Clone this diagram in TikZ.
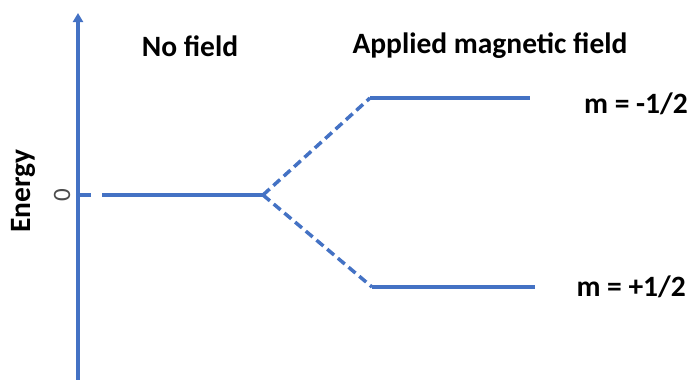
\documentclass[tikz,border=0pt]{standalone}
\usepackage{fontspec}
\setmainfont{Carlito}
\usetikzlibrary{arrows.meta}
\definecolor{lvl}{HTML}{4472C4}
\begin{document}
\begin{tikzpicture}[x=1pt,y=-1pt,
  lev/.style={draw=lvl,line width=3.5pt},
  dsh/.style={draw=lvl,line width=3.5pt,dash pattern=on 9pt off 5pt},
  lab/.style={font=\bfseries\fontsize{29.5}{32}\selectfont,inner sep=0pt}]
\useasboundingbox (0,0) rectangle (691,380);
\coordinate (ab) at (78,380);
\coordinate (at) at (78,13);
\draw[draw=lvl,line width=3.5pt,-{Triangle[length=9pt,width=10pt]}] (ab) -- (at);
\coordinate (t0) at (79,195);
\coordinate (t1) at (91,195);
\draw[lev] (t0) -- (t1);
\coordinate (n0) at (102,195);
\coordinate (sp) at (263,195);
\coordinate (u0) at (370,98);
\coordinate (u1) at (530,98);
\coordinate (d0) at (372,287);
\coordinate (d1) at (535,287);
\draw[lev] (n0) -- (sp);
\draw[dsh] (sp) -- (u0);
\draw[dsh] (sp) -- (d0);
\draw[lev] (u0) -- (u1);
\draw[lev] (d0) -- (d1);
\node[lab] (nf) at (190,46) {No field};
\node[lab] (af) at (490,46) {Applied magnetic field};
\node[lab,anchor=east] (mm) at (688,104) {m = -1/2};
\node[lab,anchor=east] (mp) at (686,287) {m = +1/2};
\node[lab,rotate=90] (en) at (23,191) {Energy};
\node[font=\fontsize{25}{28}\selectfont,text=gray!60!black,rotate=90,inner sep=0pt] (z) at (62,195) {0};
\end{tikzpicture}
\end{document}
